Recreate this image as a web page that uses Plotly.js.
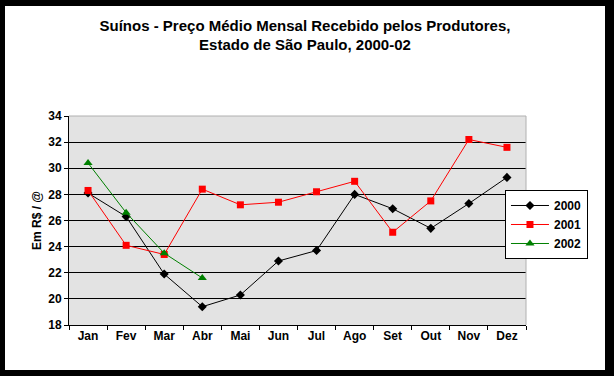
<!DOCTYPE html>
<html>
<head>
<meta charset="utf-8">
<script src="https://cdn.plot.ly/plotly-3.0.1.min.js"></script>
<style>
html,body{margin:0;padding:0;background:#000;width:614px;height:376px;overflow:hidden;}
#chart{position:absolute;left:5px;top:6px;width:600px;height:364px;background:#fff;}
</style>
</head>
<body>
<div id="chart"></div>
<script>
const months = ["Jan","Fev","Mar","Abr","Mai","Jun","Jul","Ago","Set","Out","Nov","Dez"];
const y2000 = [28.1, 26.3, 21.9, 19.4, 20.3, 22.9, 23.7, 28.0, 26.9, 25.4, 27.3, 29.3];
const y2001 = [28.3, 24.1, 23.4, 28.4, 27.2, 27.4, 28.2, 29.0, 25.1, 27.5, 32.2, 31.6];
const y2002 = [30.4, 26.6, 23.5, 21.6];
const seriesNames = ["2000", "2001", "2002"];
const yTicks = [18, 20, 22, 24, 26, 28, 30, 32, 34];

const FAM = "Liberation Sans, Arial, sans-serif";

const traces = [
  {x: months, y: y2000, name: seriesNames[0], type: "scatter", mode: "lines+markers",
   line: {color: "#000000", width: 1}, marker: {symbol: "diamond", size: 7, color: "#000000"}},
  {x: months.slice(0, y2001.length), y: y2001, name: seriesNames[1], type: "scatter", mode: "lines+markers",
   line: {color: "#FF0000", width: 1}, marker: {symbol: "square", size: 7, color: "#FF0000"}},
  {x: months.slice(0, y2002.length), y: y2002, name: seriesNames[2], type: "scatter", mode: "lines+markers",
   line: {color: "#008000", width: 1}, marker: {symbol: "triangle-up", size: 8, color: "#008000"}}
];

const layout = {
  width: 600, height: 364,
  margin: {l: 64, r: 79, t: 110, b: 45, autoexpand: false},
  paper_bgcolor: "#ffffff",
  plot_bgcolor: "#E3E3E3",
  font: {family: FAM, size: 12, color: "#000"},
  showlegend: true,
  title: {
    text: "<b>Suínos - Preço Médio Mensal Recebido pelos Produtores,<br>Estado de São Paulo, 2000-02</b>",
    font: {family: FAM, size: 15, color: "#000"},
    x: 0.5, xanchor: "center", y: 0.932, yanchor: "top"
  },
  xaxis: {
    type: "category", categoryorder: "array", categoryarray: months,
    range: [-0.5, 11.5],
    showline: true, linecolor: "#000", linewidth: 1,
    ticks: "outside", ticklen: 4, tickcolor: "#000", tickson: "boundaries",
    showgrid: false, zeroline: false,
    tickfont: {family: FAM, size: 12, color: "#000", weight: "bold"}
  },
  yaxis: {
    range: [18, 34], tickvals: yTicks, ticktext: yTicks.map(String),
    showline: true, linecolor: "#000", linewidth: 1,
    ticks: "outside", ticklen: 4, tickcolor: "#000",
    showgrid: true, gridcolor: "#000", gridwidth: 1, zeroline: false,
    tickfont: {family: FAM, size: 12, color: "#000", weight: "bold"},
    title: {text: "<b>Em R$ / @</b>", font: {family: FAM, size: 12, color: "#000"}, standoff: 4}
  },
  legend: {
    x: 0.954, xanchor: "left", y: 0.646, yanchor: "top",
    bgcolor: "#ffffff", bordercolor: "#000", borderwidth: 1,
    font: {family: FAM, size: 12, color: "#000", weight: "bold"},
    itemwidth: 38,
    tracegroupgap: 0
  },
  shapes: [
    {type: "line", xref: "paper", yref: "paper", x0: 0, x1: 1, y0: 1, y1: 1, line: {color: "#B0B0B0", width: 1}},
    {type: "line", xref: "paper", yref: "paper", x0: 1, x1: 1, y0: 0, y1: 1, line: {color: "#B0B0B0", width: 1}}
  ]
};

Plotly.newPlot("chart", traces, layout, {displayModeBar: false, staticPlot: true});
</script>
</body>
</html>
